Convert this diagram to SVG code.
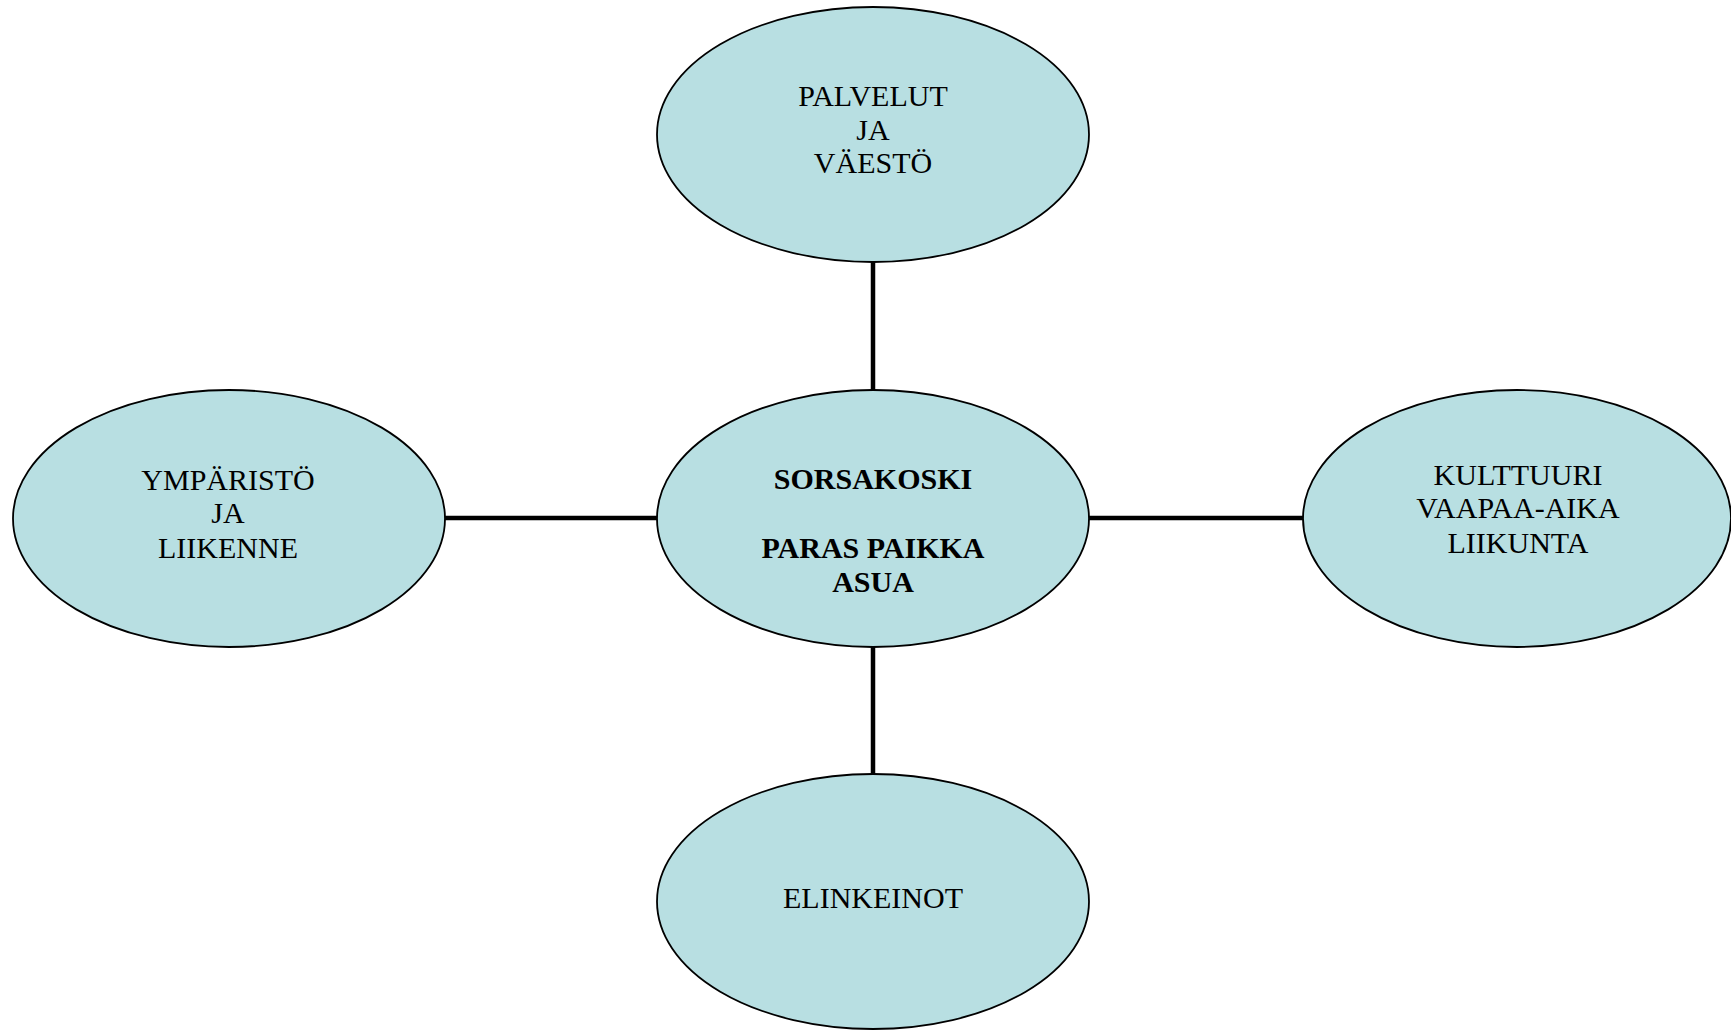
<svg xmlns="http://www.w3.org/2000/svg" width="1731" height="1030" viewBox="0 0 1731 1030">
<style>
.node ellipse{fill:#b8dfe2;stroke:#000;stroke-width:1.8}
.node text{font-family:"Liberation Serif","Times New Roman",serif;font-size:30px;fill:#000;text-anchor:middle}
.node text.b{font-weight:bold}
.conn line{stroke:#000;stroke-width:4.5}
</style>
<rect width="1731" height="1030" fill="#fff"/>
<g id="connectors" class="conn">
<line x1="873" y1="260" x2="873" y2="392"/>
<line x1="873" y1="645" x2="873" y2="776"/>
<line x1="443" y1="518" x2="659" y2="518"/>
<line x1="1087" y1="518" x2="1305" y2="518"/>
</g>
<g id="palvelut" class="node">
<ellipse cx="873" cy="134.5" rx="216" ry="127.5"/>
<text x="873" y="106">PALVELUT</text>
<text x="873" y="140">JA</text>
<text x="873" y="173">VÄESTÖ</text>
</g>
<g id="sorsakoski" class="node">
<ellipse cx="873" cy="518.5" rx="216" ry="128.5"/>
<text class="b" x="873" y="489">SORSAKOSKI</text>
<text class="b" x="873" y="558">PARAS PAIKKA</text>
<text class="b" x="873" y="592">ASUA</text>
</g>
<g id="ymparisto" class="node">
<ellipse cx="229" cy="518.5" rx="216" ry="128.5"/>
<text x="228" y="490">YMPÄRISTÖ</text>
<text x="228" y="523">JA</text>
<text x="228" y="558">LIIKENNE</text>
</g>
<g id="kulttuuri" class="node">
<ellipse cx="1517" cy="518.5" rx="214" ry="128.5"/>
<text x="1518" y="485">KULTTUURI</text>
<text x="1518" y="518">VAAPAA-AIKA</text>
<text x="1518" y="553">LIIKUNTA</text>
</g>
<g id="elinkeinot" class="node">
<ellipse cx="873" cy="901.5" rx="216" ry="127.5"/>
<text x="873" y="908">ELINKEINOT</text>
</g>
</svg>
